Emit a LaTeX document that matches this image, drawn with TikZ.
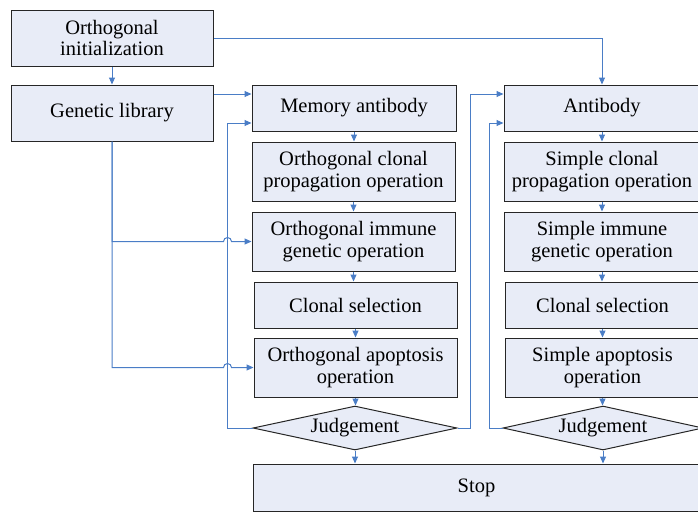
\documentclass[tikz,border=0pt]{standalone}
\usepackage{fontspec}
\newfontfamily\timesfont{Liberation Serif}
\usetikzlibrary{arrows.meta, positioning, shapes.geometric, calc}

\definecolor{boxfill}{HTML}{E8ECF7}
\definecolor{flowblue}{HTML}{4A7DC6}

\tikzset{
    opbox/.style={draw=black!85, line width=1pt, fill=boxfill, align=center,
        inner sep=0pt, font=\timesfont\fontsize{20.5}{21.5}\selectfont},
    judge/.style={diamond, draw=black!85, line width=1pt, fill=boxfill, aspect=4.6,
        inner sep=0pt, minimum width=204pt, minimum height=44pt,
        font=\timesfont\fontsize{20.5}{21.5}\selectfont},
    flow/.style={draw=flowblue, line width=1pt, -{Triangle[length=7pt,width=6pt]}}
}

\begin{document}
\begin{tikzpicture}[x=1pt, y=-1pt]
    \useasboundingbox (0,0) rectangle (698,512);

    % Start column
    \node[opbox, minimum width=202pt, minimum height=56pt] (init) at (112,38) {Orthogonal\\initialization};
    \node[opbox, minimum width=202pt, minimum height=56pt] (gen) at (112,113) {Genetic library};

    % Orthogonal column
    \node[opbox, minimum width=204pt, minimum height=46pt] (mem) at (354,108) {Memory antibody};
    \node[opbox, minimum width=203pt, minimum height=59pt] (opc) at (353.5,171.5) {Orthogonal clonal\\propagation operation};
    \node[opbox, minimum width=203pt, minimum height=59pt] (oimm) at (353.5,241.5) {Orthogonal immune\\genetic operation};
    \node[opbox, minimum width=203pt, minimum height=46pt] (ocs) at (355.5,305) {Clonal selection};
    \node[opbox, minimum width=203pt, minimum height=59pt] (oapo) at (355.5,367.5) {Orthogonal apoptosis\\operation};
    \node[judge] (oj) at (355,428) {Judgement};

    % Simple column
    \node[opbox, minimum width=196pt, minimum height=46pt] (ab) at (602,108) {Antibody};
    \node[opbox, minimum width=196pt, minimum height=59pt] (spc) at (602,171.5) {Simple clonal\\propagation operation};
    \node[opbox, minimum width=196pt, minimum height=59pt] (simm) at (602,241.5) {Simple immune\\genetic operation};
    \node[opbox, minimum width=195pt, minimum height=46pt] (scs) at (602.5,305) {Clonal selection};
    \node[opbox, minimum width=195pt, minimum height=59pt] (sapo) at (602.5,367.5) {Simple apoptosis\\operation};
    \node[judge, minimum width=200pt] (sj) at (603,428) {Judgement};

    % Stop
    \node[opbox, minimum width=447pt, minimum height=47pt] (stop) at (476.5,487.5) {Stop};

    % Straight arrows down each column
    \foreach \a/\b in {init/gen, mem/opc, opc/oimm, oimm/ocs, ocs/oapo, oapo/oj,
                       ab/spc, spc/simm, simm/scs, scs/sapo, sapo/sj} {
        \draw[flow] (\a.south) -- (\a.south |- \b.north);
    }
    \draw[flow] (oj.south) -- (oj.south |- stop.north);
    \draw[flow] (sj.south) -- (sj.south |- stop.north);

    % Links from the start column
    \draw[flow] (init.east) -| (ab.north);
    \draw[flow] ($(gen.east)+(0,-19)$) -- ($(mem.west)+(0,-14)$);
    \draw[flow] (gen.south) |- ($(oimm.west)+(-28,0)$) arc (180:360:4) -- (oimm.west);
    \draw[flow] (gen.south) |- ($(oapo.west)+(-30,0)$) arc (180:360:4) -- (oapo.west);

    % Feedback loops
    \draw[flow] (oj.west) -- ++(-25,0) |- ($(mem.west)+(0,15)$);
    \draw[flow] (oj.east) -- ++(13,0) |- ($(ab.west)+(0,-14)$);
    \draw[flow] (sj.west) -- ++(-13,0) |- ($(ab.west)+(0,15)$);
\end{tikzpicture}
\end{document}
